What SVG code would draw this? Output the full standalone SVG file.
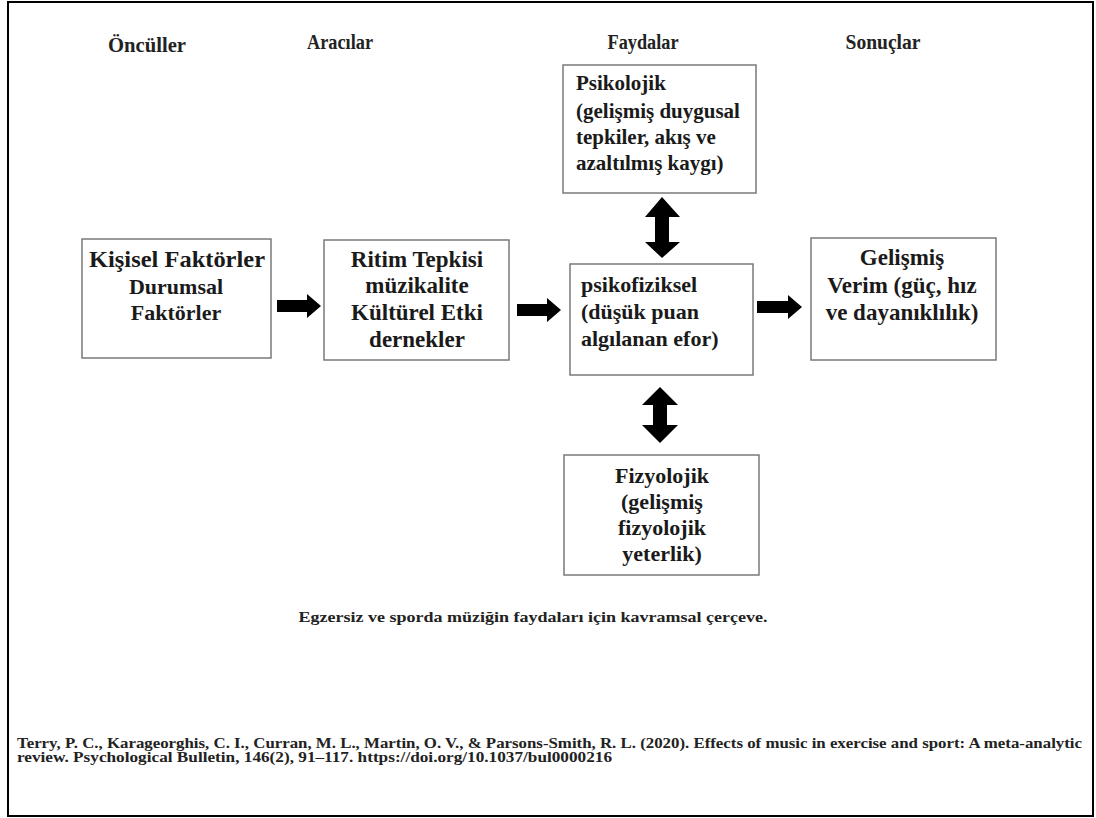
<svg xmlns="http://www.w3.org/2000/svg" width="1096" height="818" viewBox="0 0 1096 818">
<defs>
<style>
.frame{fill:#fff;stroke:#000;stroke-width:2}
.box{fill:#fff;stroke:#7a7a7a;stroke-width:1.5}
.hdr{font-family:"Liberation Serif","Times New Roman",serif;font-weight:bold;font-size:20px;fill:#222;text-anchor:middle}
.t{font-family:"Liberation Serif","Times New Roman",serif;font-weight:bold;font-size:22px;fill:#1a1a1a}
.c{text-anchor:middle}
.cap{font-family:"Liberation Serif","Times New Roman",serif;font-weight:bold;font-size:14px;fill:#222}
.arr{fill:#000}
</style>
</defs>
<rect class="frame" x="8" y="2" width="1085" height="814"/>
<g id="headers">
<text class="hdr" x="147" y="52" textLength="78" lengthAdjust="spacingAndGlyphs">Öncüller</text>
<text class="hdr" x="340" y="49" textLength="66" lengthAdjust="spacingAndGlyphs">Aracılar</text>
<text class="hdr" x="643" y="49" textLength="71" lengthAdjust="spacingAndGlyphs">Faydalar</text>
<text class="hdr" x="883" y="49" textLength="75" lengthAdjust="spacingAndGlyphs">Sonuçlar</text>
</g>
<g id="node-oncul">
<rect class="box" x="82" y="239" width="189" height="119"/>
<text class="t c" x="177" y="267" style="font-size:23px" textLength="176" lengthAdjust="spacingAndGlyphs">Kişisel Faktörler</text>
<text class="t c" x="176" y="294">Durumsal</text>
<text class="t c" x="176" y="320">Faktörler</text>
</g>
<g id="node-araci">
<rect class="box" x="324" y="240" width="185" height="120"/>
<text class="t c" x="417" y="267" style="font-size:23px">Ritim Tepkisi</text>
<text class="t c" x="417" y="293" style="font-size:23px">müzikalite</text>
<text class="t c" x="417" y="320" style="font-size:23px">Kültürel Etki</text>
<text class="t c" x="417" y="347" style="font-size:23px">dernekler</text>
</g>
<g id="node-psikofiziksel">
<rect class="box" x="570" y="264" width="183" height="111"/>
<text class="t" x="581" y="292">psikofiziksel</text>
<text class="t" x="581" y="319">(düşük puan</text>
<text class="t" x="581" y="346">algılanan efor)</text>
</g>
<g id="node-sonuc">
<rect class="box" x="811" y="238" width="185" height="122"/>
<text class="t c" x="902" y="265" style="font-size:23px">Gelişmiş</text>
<text class="t c" x="902" y="293" style="font-size:23px">Verim (güç, hız</text>
<text class="t c" x="902" y="320" style="font-size:23px">ve dayanıklılık)</text>
</g>
<g id="node-psikolojik">
<rect class="box" x="563" y="65" width="193" height="128"/>
<text class="t" x="576" y="90" style="font-size:21px">Psikolojik</text>
<text class="t" x="576" y="118" style="font-size:21px">(gelişmiş  duygusal</text>
<text class="t" x="576" y="144" style="font-size:21px">tepkiler, akış ve</text>
<text class="t" x="576" y="170" style="font-size:21px">azaltılmış  kaygı)</text>
</g>
<g id="node-fizyolojik">
<rect class="box" x="564" y="455" width="195" height="120"/>
<text class="t c" x="662" y="483">Fizyolojik</text>
<text class="t c" x="662" y="509">(gelişmiş</text>
<text class="t c" x="662" y="535">fizyolojik</text>
<text class="t c" x="662" y="561">yeterlik)</text>
</g>
<g id="connectors">
<polygon class="arr" points="277,300 307,300 307,294 321,306 307,318 307,312 277,312"/>
<polygon class="arr" points="517,304 547,304 547,298 561,310 547,322 547,316 517,316"/>
<polygon class="arr" points="757,301 788,301 788,295 802,307 788,319 788,313 757,313"/>
<polygon class="arr" points="662,197 680,217 669,217 669,242 680,242 662,258 645,242 655,242 655,217 645,217"/>
<polygon class="arr" points="660,387 678,405 667,405 667,425 678,425 660,443 642,425 653,425 653,405 642,405"/>
</g>
<g id="caption">
<text class="cap" x="533" y="622" text-anchor="middle" textLength="469" lengthAdjust="spacingAndGlyphs">Egzersiz ve sporda  müziğin  faydaları  için  kavramsal  çerçeve.</text>
<text class="cap" x="17" y="748" textLength="1065" lengthAdjust="spacingAndGlyphs">Terry, P. C., Karageorghis,  C. I., Curran, M. L., Martin, O. V., &amp; Parsons-Smith,  R. L. (2020). Effects of music in exercise and sport: A meta-analytic</text>
<text class="cap" x="17" y="762" textLength="595" lengthAdjust="spacingAndGlyphs">review. Psychological Bulletin,  146(2), 91–117. https://doi.org/10.1037/bul0000216</text>
</g>
</svg>
